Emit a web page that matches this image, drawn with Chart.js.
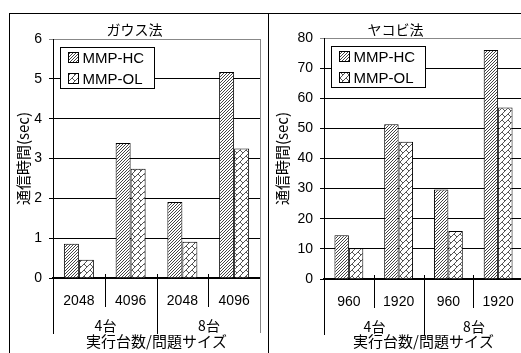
<!DOCTYPE html>
<html>
<head>
<meta charset="utf-8">
<script src="https://cdn.jsdelivr.net/npm/chart.js@4"></script>
<style>
html, body { margin: 0; padding: 0; background: #fff; overflow: hidden; }
#wrap { position: relative; width: 521px; height: 353px; overflow: hidden; }
canvas { position: absolute; top: 0; }
.line { position: absolute; background: #000; }
</style>
</head>
<body>
<div id="wrap">
  <canvas id="gauss" width="268" height="353" style="left:0px"></canvas>
  <canvas id="jacobi" width="288" height="353" style="left:268px"></canvas>
  <div class="line" style="left:9px;top:13px;width:512px;height:1px"></div>
  <div class="line" style="left:9px;top:13px;width:1px;height:340px"></div>
  <div class="line" style="left:268px;top:13px;width:1px;height:340px"></div>
</div>
<script>
// data
const seriesNames = ['MMP-HC', 'MMP-OL'];
const groups = ['4台', '8台'];

const gaussSizes = ['2048', '4096', '2048', '4096'];
const gaussHC = [0.86, 3.39, 1.91, 5.17];
const gaussOL = [0.46, 2.74, 0.91, 3.25];

const jacobiSizes = ['960', '1920', '960', '1920'];
const jacobiHC = [14.5, 51.4, 29.7, 76.0];
const jacobiOL = [10.2, 45.6, 15.9, 56.9];

const latin = '"Liberation Sans", Arial, sans-serif';
const jp = '"Noto Sans CJK JP", "Liberation Sans", sans-serif';

function hatchHC() {
    const c = document.createElement('canvas');
    c.width = 3; c.height = 3;
    const g = c.getContext('2d');
    g.fillStyle = '#fff';
    g.fillRect(0, 0, 3, 3);
    g.strokeStyle = '#444';
    g.lineWidth = 1;
    g.beginPath();
    g.moveTo(-1, 4); g.lineTo(4, -1);
    g.moveTo(-1, 1); g.lineTo(1, -1);
    g.moveTo(2, 4); g.lineTo(4, 2);
    g.stroke();
    return g.createPattern(c, 'repeat');
}

function hatchOL() {
    const c = document.createElement('canvas');
    c.width = 6; c.height = 6;
    const g = c.getContext('2d');
    g.fillStyle = '#fff';
    g.fillRect(0, 0, 6, 6);
    g.strokeStyle = '#555';
    g.lineWidth = 1;
    g.beginPath();
    g.moveTo(-1, 7); g.lineTo(7, -1);
    g.moveTo(-1, 1); g.lineTo(1, -1);
    g.moveTo(5, 7); g.lineTo(7, 5);
    g.moveTo(0, 0); g.lineTo(3, 3);
    g.stroke();
    return g.createPattern(c, 'repeat');
}

const patHC = hatchHC();
const patOL = hatchOL();

// separators, group labels and the legend box
const decor = {
    id: 'decor',
    afterDraw(chart) {
        const ctx = chart.ctx;
        const xs = chart.scales.x;
        const area = chart.chartArea;
        const n = chart.data.labels.length;
        const half = (xs.getPixelForValue(1) - xs.getPixelForValue(0)) / 2;
        const b = [];
        for (let i = 0; i <= n; i++) b.push(Math.round(xs.getPixelForValue(i) - half) + 0.5);

        ctx.save();
        ctx.lineWidth = 1;
        for (let i = 0; i <= n; i++) {
            ctx.beginPath();
            if (i == n) {
                ctx.strokeStyle = '#888';
                ctx.moveTo(b[i], area.top);
                ctx.lineTo(b[i], area.bottom + 55);
            } else if (i % 2 == 0) {
                ctx.strokeStyle = '#000';
                ctx.moveTo(b[i], i == 0 ? area.bottom : area.bottom - 4);
                ctx.lineTo(b[i], area.bottom + 56);
            } else {
                ctx.strokeStyle = '#000';
                ctx.moveTo(b[i], area.bottom - 4);
                ctx.lineTo(b[i], area.bottom + 29);
            }
            ctx.stroke();
        }

        ctx.fillStyle = '#000';
        ctx.font = '14px ' + jp;
        ctx.textAlign = 'center';
        ctx.textBaseline = 'middle';
        for (let g = 0; g < groups.length; g++) {
            ctx.fillText(groups[g], (b[g * 2] + b[g * 2 + 2]) / 2, area.bottom + 48);
        }

        // legend
        const lx = Math.round(area.left) + 7.5, ly = Math.round(area.top) + 8.5;
        ctx.fillStyle = '#fff';
        ctx.fillRect(lx, ly, 94, 41);
        ctx.strokeStyle = '#000';
        ctx.strokeRect(lx, ly, 94, 41);
        const pats = [patHC, patOL];
        ctx.font = '15px ' + latin;
        ctx.textAlign = 'left';
        for (let k = 0; k < seriesNames.length; k++) {
            const cy = ly + 10 + k * 21;
            ctx.fillStyle = pats[k];
            ctx.fillRect(lx + 8, cy - 5, 10, 10);
            ctx.strokeRect(lx + 8, cy - 5, 10, 10);
            ctx.fillStyle = '#000';
            ctx.fillText(seriesNames[k], lx + 22, cy + 1);
        }
        ctx.restore();
    }
};

function makeChart(id, title, sizes, hc, ol, max, step, lay) {
    return new Chart(document.getElementById(id), {
        type: 'bar',
        data: {
            labels: sizes,
            datasets: [
                { label: seriesNames[0], data: hc, backgroundColor: patHC, borderColor: '#000', borderWidth: 1 },
                { label: seriesNames[1], data: ol, backgroundColor: patOL, borderColor: '#000', borderWidth: 1 }
            ]
        },
        options: {
            responsive: false,
            animation: false,
            events: [],
            categoryPercentage: 0.58,
            barPercentage: 1,
            layout: { padding: { left: lay.left, right: lay.right, top: 0, bottom: 0 } },
            plugins: {
                legend: { display: false },
                tooltip: { enabled: false },
                title: {
                    display: true,
                    text: title,
                    color: '#000',
                    font: { family: jp, size: 14, weight: 'normal', lineHeight: '16px' },
                    padding: { top: 22, bottom: lay.top - 38 }
                }
            },
            scales: {
                x: {
                    grid: { display: false, drawTicks: false },
                    border: { color: '#000', width: 2 },
                    ticks: { color: '#000', font: { family: latin, size: 14 }, padding: 15, maxRotation: 0, autoSkip: false },
                    title: {
                        display: true,
                        text: '実行台数/問題サイズ',
                        color: '#000',
                        font: { family: jp, size: 15 },
                        padding: { top: 0, bottom: 3 }
                    },
                    afterFit(s) { s.height = lay.xh; }
                },
                y: {
                    min: 0,
                    max: max,
                    ticks: { stepSize: step, color: '#000', font: { family: latin, size: 14 }, padding: 7 },
                    grid: {
                        color: c => (c.tick && c.tick.value == max) ? '#888' : '#000',
                        tickLength: 4
                    },
                    border: { color: '#000', width: 1 },
                    title: {
                        display: true,
                        text: '通信時間(sec)',
                        color: '#000',
                        font: { family: jp, size: 15 },
                        padding: { top: 5, bottom: 0 }
                    },
                    afterFit(s) { s.width = lay.yw; }
                }
            }
        },
        plugins: [decor]
    });
}

makeChart('gauss', 'ガウス法', gaussSizes, gaussHC, gaussOL, 6, 1,
    { left: 9, right: 8, top: 39, xh: 75, yw: 44 });
makeChart('jacobi', 'ヤコビ法', jacobiSizes, jacobiHC, jacobiOL, 80, 10,
    { left: 0, right: 33, top: 38, xh: 74, yw: 56 });
</script>
</body>
</html>
